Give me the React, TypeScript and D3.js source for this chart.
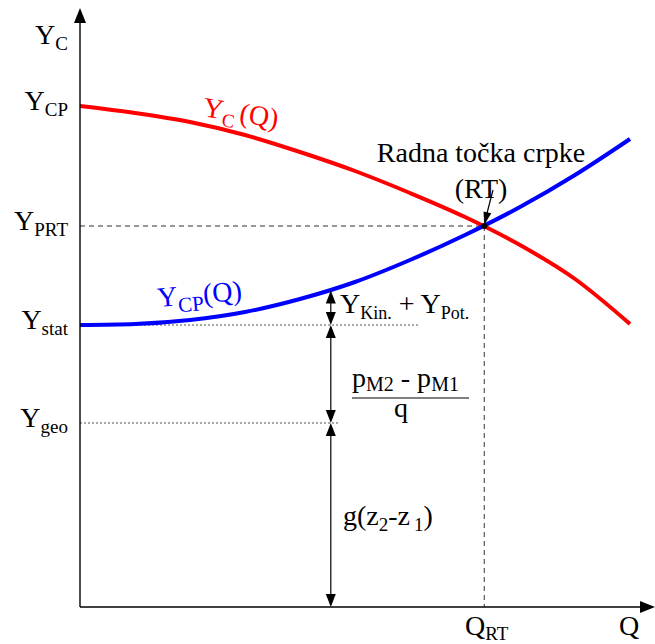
import React from "react";
import * as d3 from "d3";

// Pump / system characteristic diagram (Y over Q)
const Q_GRID = [0, 1, 2, 3, 4, 5, 6, 7, 8, 9, 10];
// Pump head curve Y_C(Q)
const Y_C_VALUES = [10.02, 9.88, 9.7, 9.44, 9.1, 8.72, 8.28, 7.8, 7.24, 6.56, 5.66];
// System curve Y_CP(Q)
const Y_CP_VALUES = [5.64, 5.66, 5.74, 5.9, 6.16, 6.5, 6.94, 7.44, 8.0, 8.64, 9.36];

// Characteristic levels on the Y axis
const Y_SHUTOFF = 10.02;
const Y_PRT = 7.62;
const Y_STAT = 5.64;
const Y_GEO = 3.68;
const Q_RT = 7.35;
const Q_ANNOT = 4.56;

// Axis label parts: main letter + subscript
const AXIS_LABELS: { key: string; main: string; sub: string; level: number | null }[] = [
  { key: "yc", main: "Y", sub: "C", level: null },
  { key: "ycp", main: "Y", sub: "CP", level: Y_SHUTOFF },
  { key: "yprt", main: "Y", sub: "PRT", level: Y_PRT },
  { key: "ystat", main: "Y", sub: "stat", level: Y_STAT },
  { key: "ygeo", main: "Y", sub: "geo", level: Y_GEO },
];

const W = 655;
const H = 644;
const SERIF = { fontFamily: '"Liberation Serif"' };

const x = d3.scaleLinear().domain([0, 10]).range([80, 630]);
const y = d3.scaleLinear().domain([0, 10]).range([607, 107]);

function arrowHead(tx: number, ty: number, angleDeg: number, len = 13, wid = 10) {
  const a = (angleDeg * Math.PI) / 180;
  const dx = Math.cos(a), dy = Math.sin(a);
  const bx = tx - dx * len, by = ty - dy * len;
  const px = -dy * (wid / 2), py = dx * (wid / 2);
  return `M${tx},${ty}L${bx + px},${by + py}L${bx - px},${by - py}Z`;
}

function DoubleArrow({ xp, y1, y2 }: { xp: number; y1: number; y2: number }) {
  return (
    <g>
      <line x1={xp} x2={xp} y1={y1 + 6} y2={y2 - 6} stroke="#000" strokeWidth={1.2} />
      <path d={arrowHead(xp, y1, -90)} fill="#000" />
      <path d={arrowHead(xp, y2, 90)} fill="#000" />
    </g>
  );
}

export default function App() {
  const line = d3
    .line<number>()
    .x((_, i) => x(Q_GRID[i]))
    .y((d) => y(d))
    .curve(d3.curveMonotoneX);

  const systemAt = d3.scaleLinear().domain(Q_GRID).range(Y_CP_VALUES);

  const x0 = x(0);
  const yBase = y(0);
  const yTop = 8;
  const xEnd = 655;

  const xa = x(Q_ANNOT);
  const rtX = x(Q_RT);
  const rtY = y(Y_PRT);

  return (
    <svg width={W} height={H} style={{ position: "absolute", left: 0, top: 0, background: "#fff" }}>
      <style>{`text { font-family: "Liberation Serif", "Tinos", "Times New Roman"; }`}</style>
      {/* reference lines */}
      <line x1={x0} x2={rtX} y1={rtY} y2={rtY} stroke="#333" strokeWidth={1} strokeDasharray="5,4" />
      <line x1={rtX} x2={rtX} y1={rtY} y2={yBase} stroke="#333" strokeWidth={1} strokeDasharray="5,4" />
      <line x1={x0} x2={418} y1={y(Y_STAT)} y2={y(Y_STAT)} stroke="#555" strokeWidth={1} strokeDasharray="2,2" />
      <line x1={x0} x2={340} y1={y(Y_GEO)} y2={y(Y_GEO)} stroke="#555" strokeWidth={1} strokeDasharray="2,2" />

      {/* curves */}
      <path d={line(Y_C_VALUES) ?? ""} fill="none" stroke="#ff0000" strokeWidth={4} />
      <path d={line(Y_CP_VALUES) ?? ""} fill="none" stroke="#0000ff" strokeWidth={4} />

      {/* axes */}
      <line x1={x0} x2={x0} y1={yBase} y2={yTop + 12} stroke="#000" strokeWidth={1.4} />
      <path d={arrowHead(x0, yTop, -90, 15, 12)} fill="#000" />
      <line x1={x0} x2={xEnd - 12} y1={yBase} y2={yBase} stroke="#000" strokeWidth={1.4} />
      <path d={arrowHead(xEnd, yBase, 0, 15, 12)} fill="#000" />

      {/* axis labels */}
      {AXIS_LABELS.map((l) => {
        const by = l.level === null ? 44 : y(l.level) + 4;
        return (
          <text key={l.key} x={68} y={by} textAnchor="end" fontSize={28} fill="#000" style={SERIF}>
            {l.main}
            <tspan fontSize={19} dy={6}>{l.sub}</tspan>
          </text>
        );
      })}
      <text x={465} y={635} fontSize={28} style={SERIF}>
        Q<tspan fontSize={19} dy={5}>RT</tspan>
      </text>
      <text x={619} y={635} fontSize={28} style={SERIF}>Q</text>

      {/* curve labels */}
      <text transform="translate(202,116) rotate(9)" fontSize={28} fill="#ff0000" style={SERIF}>
        Y<tspan fontSize={19} dy={7}>C</tspan>
        <tspan dy={-7} dx={4}>(Q)</tspan>
      </text>
      <text transform="translate(158,307) rotate(-5)" fontSize={28} fill="#0000ff" style={SERIF}>
        Y<tspan fontSize={21} dy={7}>CP</tspan>
        <tspan dy={-7}>(Q)</tspan>
      </text>

      {/* operating point */}
      <text x={481} y={162} textAnchor="middle" fontSize={28} style={SERIF}>Radna točka crpke</text>
      <text x={481} y={198} textAnchor="middle" fontSize={28} style={SERIF}>(RT)</text>
      <line x1={493} y1={190} x2={rtX + 1.5} y2={rtY - 8} stroke="#000" strokeWidth={1.2} />
      <path
        d={arrowHead(rtX, rtY - 1, (Math.atan2(rtY - 1 - 190, rtX - 493) * 180) / Math.PI, 13, 8)}
        fill="#000"
      />
      <circle cx={rtX} cy={rtY} r={3} fill="#000" />

      {/* head components */}
      <DoubleArrow xp={xa} y1={y(systemAt(Q_ANNOT)) + 1} y2={y(Y_STAT)} />
      <DoubleArrow xp={xa} y1={y(Y_STAT)} y2={y(Y_GEO)} />
      <DoubleArrow xp={xa} y1={y(Y_GEO)} y2={yBase} />

      <text x={340} y={313} fontSize={28} style={SERIF}>
        Y<tspan fontSize={18} dy={6}>Kin.</tspan>
        <tspan dy={-6}> + Y</tspan>
        <tspan fontSize={18} dy={6}>Pot.</tspan>
      </text>

      <text x={352} y={387} fontSize={28} style={SERIF}>
        p<tspan fontSize={20} dy={4}>M2</tspan>
        <tspan dy={-4}> - p</tspan>
        <tspan fontSize={20} dy={4}>M1</tspan>
      </text>
      <line x1={352} x2={469} y1={398} y2={398} stroke="#000" strokeWidth={1.2} />
      <text x={401} y={417} textAnchor="middle" fontSize={28} style={SERIF}>q</text>

      <text x={343} y={525} fontSize={28} style={SERIF}>
        g(z<tspan fontSize={19} dy={6}>2</tspan>
        <tspan dy={-6}>-z</tspan>
        <tspan fontSize={19} dy={6} dx={4}>1</tspan>
        <tspan dy={-6}>)</tspan>
      </text>
    </svg>
  );
}
